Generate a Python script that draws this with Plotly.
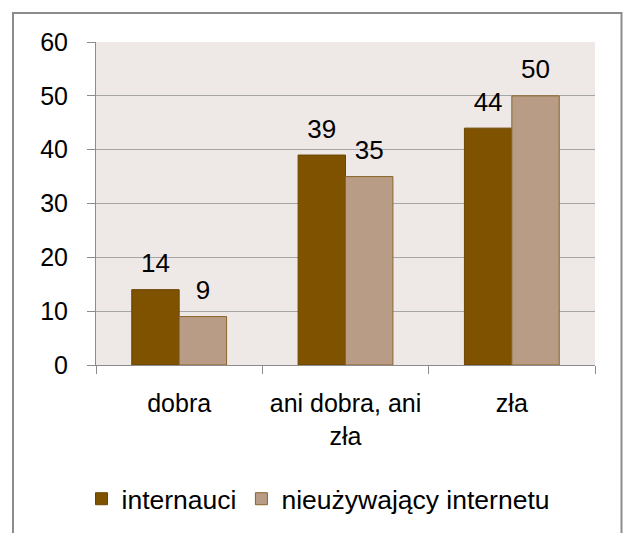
import plotly.graph_objects as go

categories = ["dobra", "ani dobra, ani<br>zła", "zła"]
internauci = [14, 39, 44]
nieuzywajacy = [9, 35, 50]
series_names = ["internauci", "nieużywający internetu"]
y_ticks = [0, 10, 20, 30, 40, 50, 60]

W, H = 625, 533
L, T = 96, 42
R, B = W - 595, H - 365
pw, ph = W - L - R, H - T - B

def px_x(px):
    return (px - L) / pw

def px_y(py):
    return (H - B - py) / ph

font = dict(family="Liberation Sans, Arial, sans-serif", color="#000000")
colors = ["#7F5200", "#B89C85"]
edges = ["#6B4500", "#8A6428"]

fig = go.Figure()
for name, vals, c, e in zip(series_names, [internauci, nieuzywajacy], colors, edges):
    fig.add_trace(go.Bar(
        x=categories, y=vals, name=name,
        marker=dict(color=c, line=dict(color=e, width=1)),
    ))
for name, vals in zip(series_names, [internauci, nieuzywajacy]):
    fig.add_trace(go.Scatter(
        x=categories, y=vals, mode="markers+text", text=vals,
        textposition="top center", showlegend=False, hoverinfo="skip",
        marker=dict(size=16, color="rgba(0,0,0,0)"), cliponaxis=False,
        textfont=dict(size=26, **font),
    ))

fig.update_layout(
    width=W, height=H,
    margin=dict(l=L, r=R, t=T, b=B, autoexpand=False),
    paper_bgcolor="#FFFFFF",
    plot_bgcolor="#EEE8E6",
    barmode="group",
    bargap=0.43,
    bargroupgap=0,
    scattermode="group",
    scattergap=0.43,
    showlegend=True,
    legend=dict(
        orientation="h", x=px_x(318), xanchor="center", y=px_y(499), yanchor="middle",
        font=dict(size=26.5, **font), traceorder="normal",
        itemwidth=30, bgcolor="rgba(0,0,0,0)",
    ),
    font=dict(size=25, **font),
    shapes=[dict(
        type="rect", xref="paper", yref="paper",
        x0=px_x(13), x1=px_x(621.5), y0=px_y(560), y1=px_y(13),
        line=dict(color="#8C8C8C", width=2), fillcolor="rgba(0,0,0,0)",
        layer="below",
    )],
)

fig.update_yaxes(
    range=[0, 60], tickvals=y_ticks, showgrid=True, gridcolor="#A6A6A6", gridwidth=1,
    showline=True, linecolor="#8C8C8C", linewidth=1,
    ticks="outside", ticklen=8, tickcolor="#8C8C8C", ticklabelstandoff=14,
    tickfont=dict(size=25, **font), zeroline=False,
)
fig.update_xaxes(
    showline=True, linecolor="#8C8C8C", linewidth=1,
    ticks="outside", ticklen=8, tickcolor="#8C8C8C", tickson="boundaries",
    ticklabelstandoff=16,
    tickfont=dict(size=25, **font), showgrid=False,
)

fig.write_html(
    "out.html",
    config={"displayModeBar": False},
    post_script="document.body.style.margin='0';document.body.style.overflow='hidden';",
)
